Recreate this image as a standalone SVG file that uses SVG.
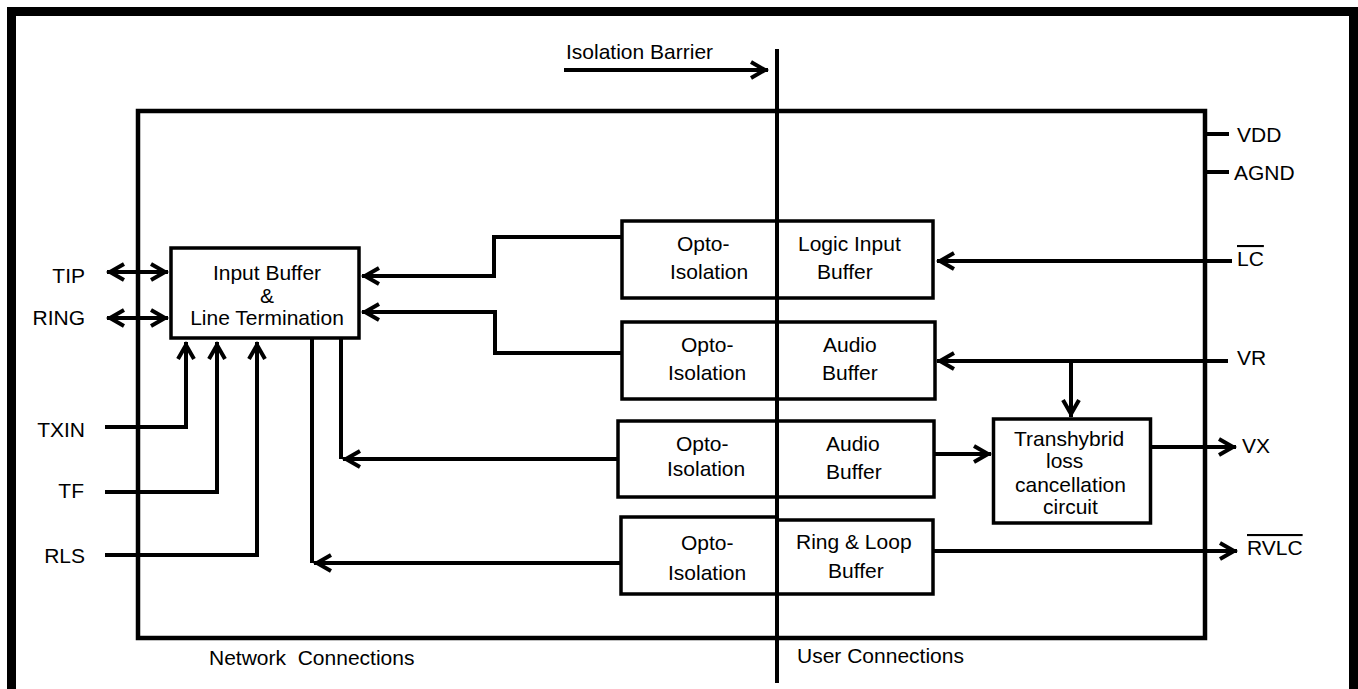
<svg xmlns="http://www.w3.org/2000/svg" width="1358" height="689" viewBox="0 0 1358 689">
<style>
text{font-family:"Liberation Sans",Arial,sans-serif;font-size:21px;fill:#000}
.box{fill:#fff;stroke:#000;stroke-width:3.5}
.wire{fill:none;stroke:#000;stroke-width:4}
.arr{marker-end:url(#ah)}
.ol{text-decoration:overline}
</style>
<defs>
<marker id="ah" markerUnits="userSpaceOnUse" markerWidth="30" markerHeight="30" viewBox="-20 -15 30 30" refX="0" refY="0" orient="auto-start-reverse" overflow="visible">
<path d="M-17,-8 L-3,0 L-17,8" fill="none" stroke="#000" stroke-width="4"/>
</marker>
</defs>
<rect width="1358" height="689" fill="#fff"/>
<g id="frame">
<rect x="11.5" y="11.5" width="1342" height="720" fill="none" stroke="#000" stroke-width="9"/>
<rect x="138" y="111" width="1067" height="527" fill="none" stroke="#000" stroke-width="4.5"/>
<text x="209" y="665" style="white-space:pre">Network  Connections</text>
<text x="797" y="663">User Connections</text>
<text x="566" y="59">Isolation Barrier</text>
</g>
<g id="connectors">
<path class="wire arr" d="M564,70 H768"/>
<path class="wire" d="M107,272 H168" marker-start="url(#ah)" marker-end="url(#ah)"/>
<path class="wire" d="M107,318 H168" marker-start="url(#ah)" marker-end="url(#ah)"/>
<path class="wire arr" d="M105,427 H186 V342"/>
<path class="wire arr" d="M105,492 H217 V342"/>
<path class="wire arr" d="M105,555 H257 V342"/>
<path class="wire" d="M341,338 V459"/>
<path class="wire arr" d="M618,459 H343"/>
<path class="wire" d="M312,338 V563"/>
<path class="wire arr" d="M621,563 H314"/>
<path class="wire arr" d="M622,237 H494 V276 H362"/>
<path class="wire arr" d="M622,353 H495 V312 H362"/>
<path class="wire arr" d="M1232,261 H937"/>
<path class="wire arr" d="M1228,361 H937"/>
<path class="wire arr" d="M1071,361 V417"/>
<path class="wire arr" d="M934,454 H991"/>
<path class="wire arr" d="M1151,447 H1236"/>
<path class="wire arr" d="M933,551 H1237"/>
<path class="wire" d="M1205,134 H1229"/>
<path class="wire" d="M1205,172 H1229"/>
</g>
<g id="input-buffer">
<rect class="box" x="171" y="248" width="188" height="90"/>
<text x="267" y="280" text-anchor="middle">Input Buffer</text>
<text x="267" y="303" text-anchor="middle">&amp;</text>
<text x="267" y="325" text-anchor="middle">Line Termination</text>
</g>
<g id="opto1">
<rect class="box" x="622" y="221" width="311" height="77"/>
<text x="677" y="251">Opto-</text>
<text x="670" y="279">Isolation</text>
<text x="798" y="251">Logic Input</text>
<text x="817" y="279">Buffer</text>
</g>
<g id="opto2">
<rect class="box" x="622" y="322" width="313" height="77"/>
<text x="681" y="352">Opto-</text>
<text x="668" y="380">Isolation</text>
<text x="823" y="352">Audio</text>
<text x="822" y="380">Buffer</text>
</g>
<g id="opto3">
<rect class="box" x="618" y="421" width="316" height="76"/>
<text x="676" y="451">Opto-</text>
<text x="667" y="476">Isolation</text>
<text x="826" y="451">Audio</text>
<text x="826" y="479">Buffer</text>
</g>
<g id="opto4">
<path class="box" d="M777,517 H621 V594 H933 V520 H777 Z"/>
<text x="681" y="550">Opto-</text>
<text x="668" y="580">Isolation</text>
<text x="796" y="549">Ring &amp; Loop</text>
<text x="828" y="578">Buffer</text>
</g>
<g id="transhybrid">
<rect class="box" x="993.5" y="419" width="157" height="104"/>
<text x="1014" y="446">Transhybrid</text>
<text x="1046" y="468">loss</text>
<text x="1015" y="492">cancellation</text>
<text x="1043" y="514">circuit</text>
</g>
<g id="barrier">
<line x1="777" y1="49" x2="777" y2="683" stroke="#000" stroke-width="4"/>
</g>
<g id="pins">
<text x="85" y="283" text-anchor="end">TIP</text>
<text x="85" y="325" text-anchor="end">RING</text>
<text x="85" y="437" text-anchor="end">TXIN</text>
<text x="84" y="498" text-anchor="end">TF</text>
<text x="85" y="563" text-anchor="end">RLS</text>
<text x="1237" y="142">VDD</text>
<text x="1234" y="180">AGND</text>
<text class="ol" x="1237" y="266">LC</text>
<text x="1237" y="365">VR</text>
<text x="1242" y="453">VX</text>
<text class="ol" x="1247" y="555">RVLC</text>
</g>
</svg>
